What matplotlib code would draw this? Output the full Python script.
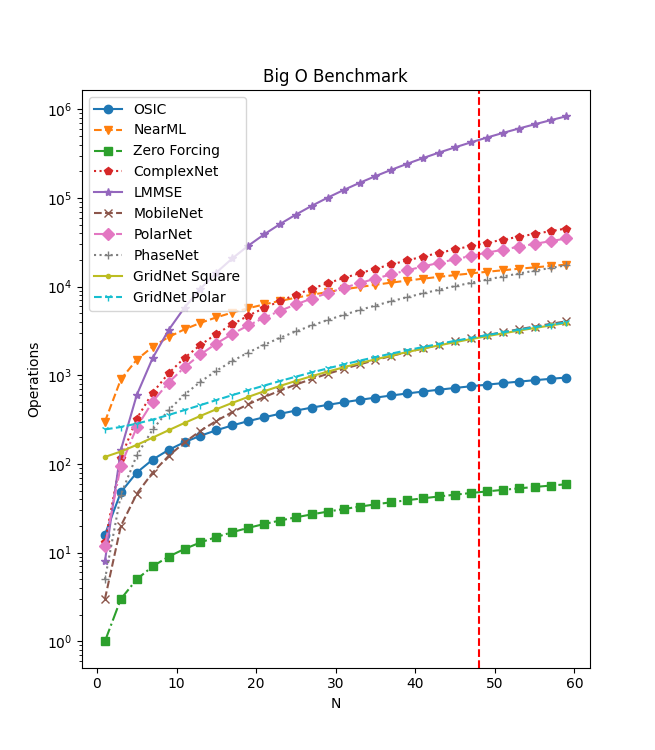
import matplotlib
matplotlib.use("Agg")
import matplotlib.pyplot as plt

N = [1, 3, 5, 7, 9, 11, 13, 15, 17, 19, 21, 23, 25, 27, 29,
     31, 33, 35, 37, 39, 41, 43, 45, 47, 49, 51, 53, 55, 57, 59]

osic = [16, 48, 80, 112, 144, 176, 208, 240, 272, 304, 336, 368, 400, 432, 464,
        496, 528, 560, 592, 624, 656, 688, 720, 752, 784, 816, 848, 880, 912, 944]

nearml = [300, 900, 1500, 2100, 2700, 3300, 3900, 4500, 5100, 5700, 6300, 6900, 7500, 8100, 8700,
          9300, 9900, 10500, 11100, 11700, 12300, 12900, 13500, 14100, 14700, 15300, 15900, 16500, 17100, 17700]

zero_forcing = [1, 3, 5, 7, 9, 11, 13, 15, 17, 19, 21, 23, 25, 27, 29,
                31, 33, 35, 37, 39, 41, 43, 45, 47, 49, 51, 53, 55, 57, 59]

complexnet = [13, 117, 325, 637, 1053, 1573, 2197, 2925, 3757, 4693, 5733, 6877, 8125, 9477, 10933,
              12493, 14157, 15925, 17797, 19773, 21853, 24037, 26325, 28717, 31213, 33813, 36517, 39325, 42237, 45253]

lmmse = [8, 144, 600, 1568, 3240, 5808, 9464, 14400, 20808, 28880, 38808, 50784, 65000, 81648, 100920,
         123008, 148104, 176400, 208088, 243360, 282408, 325424, 372600, 424128, 480200, 541008, 606744, 677600, 753768, 835440]

mobilenet = [3, 20, 46, 80, 123, 175, 236, 306, 384, 471, 567, 672, 786, 908, 1039,
             1179, 1328, 1486, 1652, 1827, 2011, 2204, 2406, 2616, 2835, 3063, 3300, 3546, 3800, 4063]

polarnet = [12, 96, 260, 504, 828, 1232, 1716, 2280, 2924, 3648, 4452, 5336, 6300, 7344, 8468,
            9672, 10956, 12320, 13764, 15288, 16892, 18576, 20340, 22184, 24108, 26112, 28196, 30360, 32604, 34928]

phasenet = [5, 45, 125, 245, 405, 605, 845, 1125, 1445, 1805, 2205, 2645, 3125, 3645, 4205,
            4805, 5445, 6125, 6845, 7605, 8405, 9245, 10125, 11045, 12005, 13005, 14045, 15125, 16245, 17405]

gridnet_square = [120, 138, 164, 198, 240, 290, 348, 414, 488, 570, 660, 758, 864, 978, 1100,
                  1230, 1368, 1514, 1668, 1830, 2000, 2178, 2364, 2558, 2760, 2970, 3188, 3414, 3648, 3890]

gridnet_polar = [245, 261, 285, 317, 357, 405, 461, 525, 597, 677, 765, 861, 965, 1077, 1197,
                 1325, 1461, 1605, 1757, 1917, 2085, 2261, 2445, 2637, 2837, 3045, 3261, 3485, 3717, 3957]

threshold_N = 48

fig, ax = plt.subplots(figsize=(6.55, 7.5), dpi=100)

ax.plot(N, osic, linestyle='-', marker='o', label='OSIC')
ax.plot(N, nearml, linestyle='--', marker='v', label='NearML')
ax.plot(N, zero_forcing, linestyle='-.', marker='s', label='Zero Forcing')
ax.plot(N, complexnet, linestyle=':', marker='p', label='ComplexNet')
ax.plot(N, lmmse, linestyle='-', marker='*', label='LMMSE')
ax.plot(N, mobilenet, linestyle='--', marker='x', label='MobileNet')
ax.plot(N, polarnet, linestyle='-.', marker='D', label='PolarNet')
ax.plot(N, phasenet, linestyle=':', marker='+', label='PhaseNet')
ax.plot(N, gridnet_square, linestyle='-', marker='.', label='GridNet Square')
ax.plot(N, gridnet_polar, linestyle='--', marker='1', label='GridNet Polar')

ax.axvline(threshold_N, color='red', linestyle='--')

ax.set_yscale('log')
ax.set_title('Big O Benchmark')
ax.set_xlabel('N')
ax.set_ylabel('Operations')
ax.legend(loc='upper left')

fig.savefig('out.png', dpi=100)
